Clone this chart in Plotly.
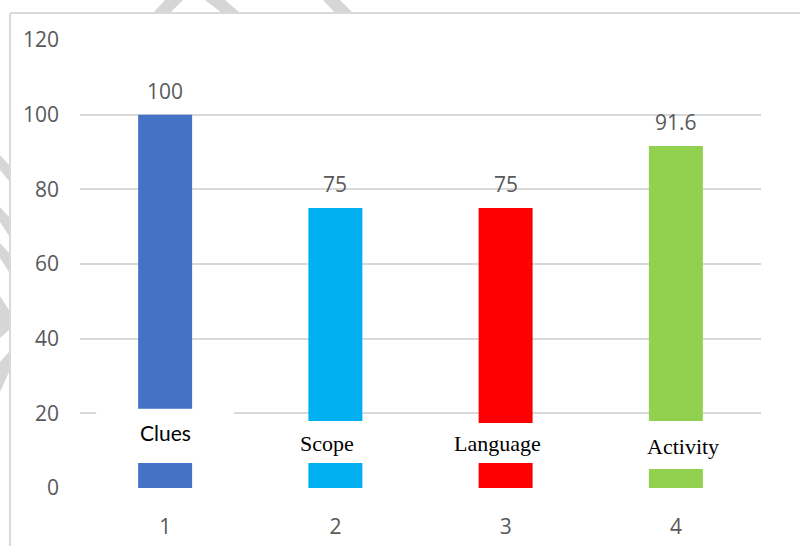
import plotly.graph_objects as go

# ---- data ----
categories = [1, 2, 3, 4]
values = [100, 75, 75, 91.6]
value_labels = ["100", "75", "75", "91.6"]
bar_colors = ["#4472C4", "#00B0F0", "#FF0000", "#92D050"]
box_texts = ["Clues", "Scope", "Language", "Activity"]
y_ticks = [0, 20, 40, 60, 80, 100, 120]

W, H = 800, 546
L, R, T, B = 80, 39, 40, 58
PW, PH = W - L - R, H - T - B


def px(x):
    return (x - L) / PW


def py(y):
    return (H - B - y) / PH


fig = go.Figure()
fig.add_trace(go.Bar(
    x=categories, y=values, width=0.317,
    marker=dict(color=bar_colors, line=dict(width=0)),
    hoverinfo="skip", showlegend=False,
))

shapes = []
# watermark fragments (outside the chart frame)
wm_polys = [
    [(153, 13), (170, 13), (183, 0), (165, 0)],
    [(205, 0), (225, 0), (240, 13), (222, 13)],
    [(323, 0), (340, 0), (353, 13), (335, 13)],
    [(0, 155), (9, 165), (9, 181), (0, 170)],
    [(0, 207), (9, 217), (9, 236), (0, 222)],
    [(0, 243), (9, 253), (9, 272), (0, 258)],
    [(0, 296), (9, 310), (9, 330), (0, 338)],
    [(0, 362), (9, 352), (9, 372), (0, 392)],
]
for poly in wm_polys:
    path = "M " + " L ".join(f"{px(a):.5f},{py(b):.5f}" for a, b in poly) + " Z"
    shapes.append(dict(type="path", xref="paper", yref="paper", path=path,
                       fillcolor="#d6d6d6", line=dict(width=0), layer="below"))

# chart frame
shapes.append(dict(type="line", xref="paper", yref="paper",
                   x0=px(10), x1=px(10), y0=py(13), y1=py(H + 5),
                   line=dict(color="#d9d9d9", width=2)))
shapes.append(dict(type="line", xref="paper", yref="paper",
                   x0=px(10), x1=px(W + 5), y0=py(13), y1=py(13),
                   line=dict(color="#d9d9d9", width=2)))

# white text boxes overlaying the bars
box_rects = [
    (0.595, 1.405, 6.7, 21.2),
    (1.62, 2.33, 6.7, 17.95),
    (2.6, 3.4, 6.7, 17.4),
    (3.6, 4.42, 5.1, 17.95),
]
for x0, x1, y0, y1 in box_rects:
    shapes.append(dict(type="rect", xref="x", yref="y", x0=x0, x1=x1, y0=y0, y1=y1,
                       fillcolor="white", line=dict(width=0), layer="above"))

annotations = []
for c, v, t in zip(categories, values, value_labels):
    annotations.append(dict(x=c, y=v, text=t, showarrow=False, yanchor="middle",
                            yshift=24, font=dict(family="Open Sans", size=21, color="#595959")))

box_pos = [(1.0, 15.0), (1.95, 12.05), (2.95, 12.05), (4.04, 11.0)]
box_fonts = ["Lato", "Liberation Serif", "Liberation Serif", "Liberation Serif"]
box_sizes = [21, 22, 22, 22]
for (x, y), t, f, s in zip(box_pos, box_texts, box_fonts, box_sizes):
    annotations.append(dict(x=x, y=y, text=t, showarrow=False, yanchor="middle",
                            font=dict(family=f, size=s, color="#000000")))

fig.update_layout(
    width=W, height=H, autosize=False,
    margin=dict(l=L, r=R, t=T, b=B, pad=0, autoexpand=False),
    paper_bgcolor="white", plot_bgcolor="white",
    shapes=shapes, annotations=annotations,
    bargap=0.68, showlegend=False,
    xaxis=dict(range=[0.5, 4.5], tickvals=categories, ticktext=[str(c) for c in categories],
               showgrid=False, zeroline=False, showline=False, ticks="",
               ticklabelstandoff=24, automargin=False,
               tickfont=dict(family="Open Sans", size=21, color="#595959")),
    yaxis=dict(range=[0, 120], tickvals=y_ticks, showgrid=True, gridcolor="#d9d9d9",
               gridwidth=1.5, zeroline=False, showline=False, ticks="",
               ticklabelstandoff=20, automargin=False,
               tickfont=dict(family="Open Sans", size=21, color="#595959")),
)

fig.write_html("out.html", config={"displayModeBar": False, "responsive": False},
               post_script="document.body.style.margin='0';document.body.style.overflow='hidden';")
